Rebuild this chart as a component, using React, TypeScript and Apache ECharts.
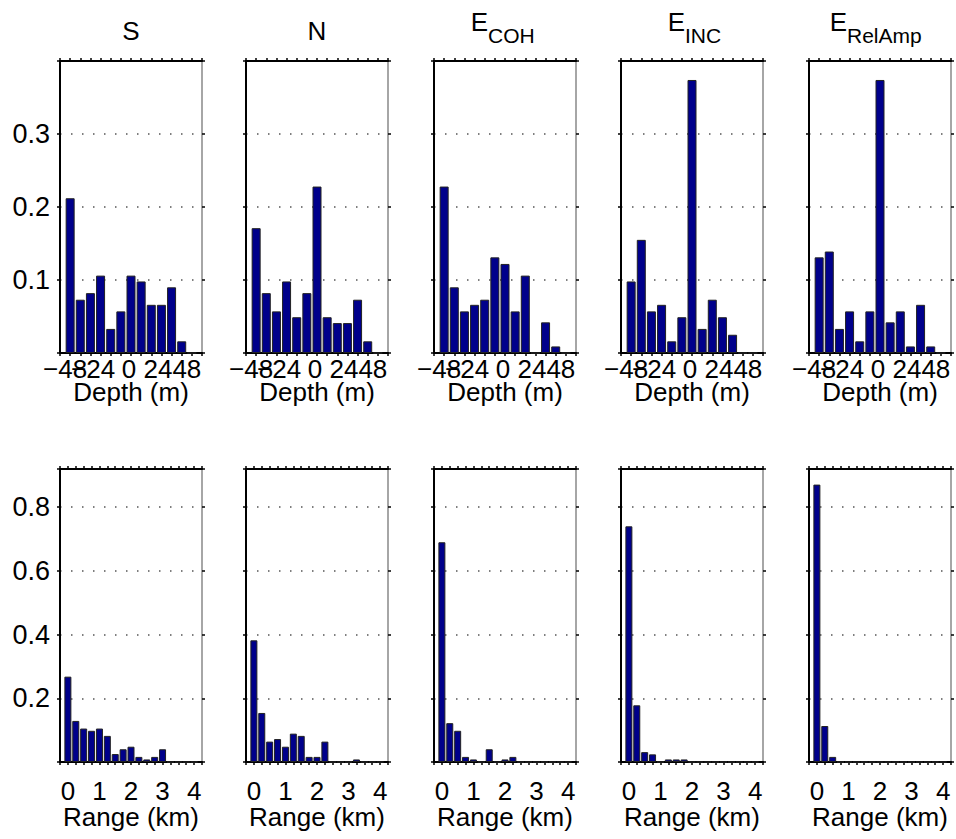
import React, { useEffect, useRef } from 'react';
import * as echarts from 'echarts';

// ---- data ----
const depthBins = [-48, -40, -32, -24, -16, -8, 0, 8, 16, 24, 32, 40, 48];
const rangeBins = [0, 0.25, 0.5, 0.75, 1, 1.25, 1.5, 1.75, 2, 2.25, 2.5, 2.75, 3, 3.25, 3.5, 3.75, 4];

const titleMain = ['S', 'N', 'E', 'E', 'E'];
const titleSub = ['', '', 'COH', 'INC', 'RelAmp'];

const depthS = [0.212, 0.073, 0.082, 0.106, 0.033, 0.057, 0.106, 0.098, 0.066, 0.066, 0.090, 0.016, 0];
const depthN = [0.171, 0.082, 0.057, 0.098, 0.049, 0.082, 0.228, 0.049, 0.041, 0.041, 0.073, 0.016, 0];
const depthCOH = [0.228, 0.090, 0.057, 0.066, 0.073, 0.131, 0.122, 0.057, 0.106, 0, 0.042, 0.009, 0];
const depthINC = [0.098, 0.155, 0.057, 0.066, 0.016, 0.049, 0.374, 0.033, 0.073, 0.049, 0.025, 0, 0];
const depthRelAmp = [0.131, 0.139, 0.033, 0.057, 0.016, 0.057, 0.374, 0.042, 0.057, 0.009, 0.066, 0.009, 0];

const rangeS = [0.268, 0.129, 0.105, 0.098, 0.105, 0.082, 0.025, 0.040, 0.048, 0.016, 0.008, 0.016, 0.040, 0, 0, 0, 0];
const rangeN = [0.382, 0.154, 0.064, 0.072, 0.048, 0.089, 0.082, 0.016, 0.016, 0.064, 0, 0, 0, 0.008, 0, 0, 0];
const rangeCOH = [0.690, 0.122, 0.098, 0.016, 0.008, 0, 0.040, 0, 0.008, 0.016, 0, 0, 0, 0, 0, 0, 0];
const rangeINC = [0.740, 0.178, 0.031, 0.024, 0, 0.008, 0.008, 0.008, 0, 0, 0, 0, 0, 0, 0, 0, 0];
const rangeRelAmp = [0.871, 0.113, 0.016, 0, 0, 0, 0, 0, 0, 0, 0, 0, 0, 0, 0, 0, 0];

const depthData = [depthS, depthN, depthCOH, depthINC, depthRelAmp];
const rangeData = [rangeS, rangeN, rangeCOH, rangeINC, rangeRelAmp];

const depthTickLabels = [-48, -24, 0, 24, 48];
const rangeTickLabels = [0, 1, 2, 3, 4];
const depthYLabels = [0.1, 0.2, 0.3];
const rangeYLabels = [0.2, 0.4, 0.6, 0.8];

// ---- layout ----
const W = 956;
const H = 839;
const colLefts = [60, 246, 434, 621, 809];
const panelW = 142;
const rowTops = [61, 469];
const panelHs = [292, 293];
const labelMargins = [3, 16];
const nameGaps = [26, 42];
const depthLabelShift = [10, 15, 4, 7, 10]; // right padding per depth label (shifts text left by half)
const subOffsets = [0, 0, -17, -7, -33];
const FONT = 'Liberation Sans, Arial, Helvetica, sans-serif';
const FS = 26;
const BAR = '#00008B';

const labelBase = { fontSize: FS, fontFamily: FONT, color: '#000' };

function fmtDepth(v: number) {
  const r = Math.round(v);
  const k = depthTickLabels.indexOf(r);
  if (k < 0 || Math.abs(v - r) > 1e-6) return '';
  const txt = r < 0 ? '\u2212' + Math.abs(r) : String(r);
  return '{d' + k + '|' + txt + '}';
}
function fmtRange(v: number) {
  const r = Math.round(v);
  if (!rangeTickLabels.includes(r) || Math.abs(v - r) > 1e-6) return '';
  return String(r);
}

export default function App() {
  const ref = useRef<HTMLDivElement>(null);
  useEffect(() => {
    document.body.style.margin = '0';
    if (!ref.current) return;
    const chart = echarts.init(ref.current, null, { renderer: 'svg', width: W, height: H });

    const grid: any[] = [];
    const xAxis: any[] = [];
    const yAxis: any[] = [];
    const series: any[] = [];
    const graphic: any[] = [];

    const rich: any = {};
    depthLabelShift.forEach((p, k) => {
      rich['d' + k] = { ...labelBase, padding: [0, p, 0, 0] };
    });

    for (let row = 0; row < 2; row++) {
      for (let col = 0; col < 5; col++) {
        const gi = row * 5 + col;
        grid.push({ left: colLefts[col], top: rowTops[row], width: panelW, height: panelHs[row], containLabel: false });
        const isDepth = row === 0;
        const xMin = isDepth ? -56 : -0.25;
        const xMax = isDepth ? 56 : 4.25;
        const xInt = isDepth ? 8 : 0.25;
        const yMax = isDepth ? 0.4 : 0.92;
        const yInt = isDepth ? 0.1 : 0.2;
        const yLabs = isDepth ? depthYLabels : rangeYLabels;
        const tickStyle = { show: true, inside: false, length: 3, lineStyle: { color: '#000', width: 1.5 } };
        xAxis.push({
          type: 'value', gridIndex: gi, position: 'bottom', min: xMin, max: xMax, interval: xInt,
          axisLine: { show: true, onZero: false, lineStyle: { color: '#000', width: 2 } },
          axisTick: tickStyle,
          splitLine: { show: false },
          axisLabel: {
            show: true, margin: labelMargins[row], ...labelBase,
            formatter: isDepth ? fmtDepth : fmtRange, showMinLabel: true, showMaxLabel: true, hideOverlap: false,
            rich,
          },
          name: isDepth ? 'Depth (m)' : 'Range (km)',
          nameLocation: 'middle', nameGap: nameGaps[row],
          nameMoveOverlap: false,
          nameTextStyle: { fontSize: FS, fontFamily: FONT, color: '#000' },
        });
        xAxis.push({
          type: 'value', gridIndex: gi, position: 'top', min: xMin, max: xMax, interval: xInt,
          axisLine: { show: true, onZero: false, lineStyle: { color: '#000', width: 2 } },
          axisTick: tickStyle,
          splitLine: { show: false },
          axisLabel: { show: false },
        });
        yAxis.push({
          type: 'value', gridIndex: gi, position: 'left', min: 0, max: yMax, interval: yInt,
          axisLine: { show: true, onZero: false, lineStyle: { color: '#000', width: 2 } },
          axisTick: tickStyle,
          splitLine: { show: true, lineStyle: { color: '#555', width: 1.5, type: [1.5, 9.5] } },
          axisLabel: {
            show: col === 0, margin: 10, fontSize: 27, fontFamily: FONT, color: '#000',
            formatter: (v: number) => (yLabs.some((l) => Math.abs(l - v) < 1e-6) ? v.toFixed(1) : ''),
          },
        });
        yAxis.push({
          type: 'value', gridIndex: gi, position: 'right', min: 0, max: yMax, interval: yInt,
          axisLine: { show: true, onZero: false, lineStyle: { color: '#888', width: 1.5 } },
          axisTick: {
            show: true, inside: false, length: 3, lineStyle: { color: '#000', width: 1.5 },
          },
          splitLine: { show: false },
          axisLabel: { show: false },
        });
        const bins = isDepth ? depthBins : rangeBins;
        const vals = isDepth ? depthData[col] : rangeData[col];
        series.push({
          type: 'bar', xAxisIndex: gi * 2, yAxisIndex: gi * 2,
          barWidth: isDepth ? 9 : 7,
          itemStyle: { color: BAR, borderColor: '#222', borderWidth: 1 },
          data: bins.map((b, i) => [b, vals[i]]),
          silent: true,
        });
      }
    }

    for (let col = 0; col < 5; col++) {
      const cx = colLefts[col] + panelW / 2;
      if (!titleSub[col]) {
        graphic.push({
          type: 'text', x: cx, y: 31,
          style: { text: titleMain[col], fontSize: FS, fontFamily: FONT, fill: '#000', align: 'center', verticalAlign: 'middle' },
        });
      } else {
        const x0 = cx + subOffsets[col];
        graphic.push({
          type: 'text', x: x0, y: 21.5,
          style: { text: titleMain[col], fontSize: FS, fontFamily: FONT, fill: '#000', align: 'right', verticalAlign: 'middle' },
        });
        graphic.push({
          type: 'text', x: x0, y: 35.5,
          style: { text: titleSub[col], fontSize: 21, fontFamily: FONT, fill: '#000', align: 'left', verticalAlign: 'middle' },
        });
      }
    }

    chart.setOption({
      animation: false,
      backgroundColor: '#fff',
      grid, xAxis, yAxis, series, graphic,
    });
    return () => chart.dispose();
  }, []);
  return <div ref={ref} style={{ width: W, height: H }} />;
}
